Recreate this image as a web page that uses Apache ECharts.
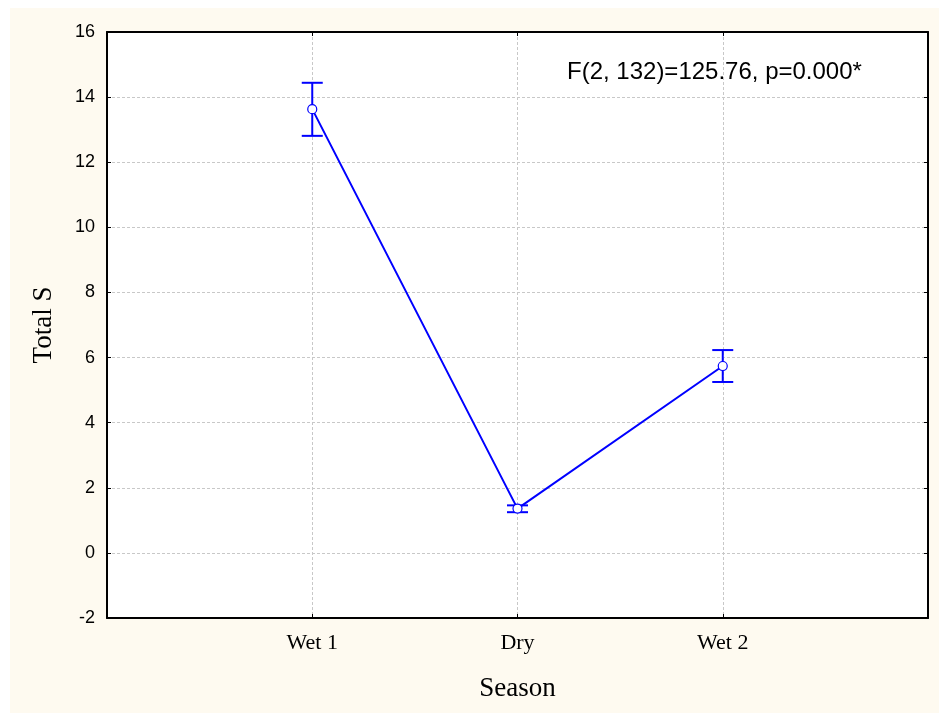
<!DOCTYPE html>
<html>
<head>
<meta charset="utf-8">
<title>Total S by Season</title>
<script src="https://cdn.jsdelivr.net/npm/echarts@6/dist/echarts.min.js"></script>
<style>
	html, body { margin: 0; padding: 0; background: #ffffff; }
	#chart { position: absolute; left: 10px; top: 8px; width: 929px; height: 705px; background: #fefaf0; }
</style>
</head>
<body>
<div id="chart"></div>
<script>
const categories = ['Wet 1', 'Dry', 'Wet 2'];
const means = [13.63, 1.36, 5.74];
const upper = [14.44, 1.46, 6.23];
const lower = [12.81, 1.25, 5.25];
const yTicks = [-2, 0, 2, 4, 6, 8, 10, 12, 14, 16];
const statText = 'F(2, 132)=125.76, p=0.000*';

const BLUE = '#0000ff';
const SERIF = '"Liberation Serif", "Times New Roman", serif';
const SANS = '"Liberation Sans", Arial, sans-serif';

function categoryLabel(value) {
	const idx = Math.round(value) - 1;
	return categories[idx] !== undefined && Math.abs(value - idx - 1) < 1e-6 ? categories[idx] : '';
}

function renderErrorBar(params, api) {
	const x = api.value(0);
	const lo = api.coord([x, api.value(1)]);
	const hi = api.coord([x, api.value(2)]);
	const half = 10.5;
	const style = { stroke: BLUE, lineWidth: 2 };
	return {
		type: 'group',
		children: [
			{ type: 'line', shape: { x1: lo[0], y1: lo[1], x2: hi[0], y2: hi[1] }, style: style },
			{ type: 'line', shape: { x1: lo[0] - half, y1: lo[1], x2: lo[0] + half, y2: lo[1] }, style: style },
			{ type: 'line', shape: { x1: hi[0] - half, y1: hi[1], x2: hi[0] + half, y2: hi[1] }, style: style }
		]
	};
}

const chart = echarts.init(document.getElementById('chart'));

const innerTick = { show: true, inside: true, length: 4, lineStyle: { color: '#000', width: 1 } };
const blackLine = { show: true, onZero: false, lineStyle: { color: '#000', width: 2 } };
const gridDash = { show: true, lineStyle: { color: '#c8c8c8', width: 1, type: [3, 2] } };

chart.setOption({
	animation: false,
	grid: { left: 97, top: 24, right: 11, bottom: 95, show: true, backgroundColor: '#ffffff', borderWidth: 0 },
	xAxis: [
		{
			type: 'value', min: 0, max: 4, interval: 1,
			name: 'Season', nameLocation: 'middle', nameGap: 57,
			nameTextStyle: { fontFamily: SERIF, fontSize: 27, color: '#000' },
			axisLine: blackLine, axisTick: innerTick, splitLine: gridDash,
			axisLabel: { formatter: categoryLabel, fontFamily: SERIF, fontSize: 22, color: '#000', margin: 14 }
		},
		{
			type: 'value', position: 'top', min: 0, max: 4, interval: 1,
			axisLine: blackLine, axisTick: innerTick, splitLine: { show: false }, axisLabel: { show: false }
		}
	],
	yAxis: [
		{
			type: 'value', min: yTicks[0], max: yTicks[yTicks.length - 1], interval: yTicks[1] - yTicks[0],
			name: 'Total S', nameLocation: 'middle', nameGap: 50,
			nameTextStyle: { fontFamily: SERIF, fontSize: 27, color: '#000' },
			axisLine: blackLine, axisTick: innerTick, splitLine: gridDash,
			axisLabel: { fontFamily: SANS, fontSize: 18, color: '#000', margin: 12 }
		},
		{
			type: 'value', position: 'right', min: yTicks[0], max: yTicks[yTicks.length - 1], interval: yTicks[1] - yTicks[0],
			axisLine: blackLine, axisTick: innerTick, splitLine: { show: false }, axisLabel: { show: false }
		}
	],
	graphic: [
		{
			type: 'text', left: 557, top: 52,
			style: { text: statText, fontFamily: SANS, fontSize: 24, fill: '#000' }
		}
	],
	series: [
		{
			type: 'custom', z: 2,
			renderItem: renderErrorBar,
			encode: { x: 0, y: [1, 2] },
			data: categories.map((c, i) => [i + 1, lower[i], upper[i]])
		},
		{
			type: 'line', z: 3,
			data: categories.map((c, i) => [i + 1, means[i]]),
			symbol: 'circle', symbolSize: 9,
			lineStyle: { color: BLUE, width: 2 },
			itemStyle: { color: '#ffffff', borderColor: BLUE, borderWidth: 1.2 }
		}
	]
});

window.addEventListener('resize', () => chart.resize());
</script>
</body>
</html>
